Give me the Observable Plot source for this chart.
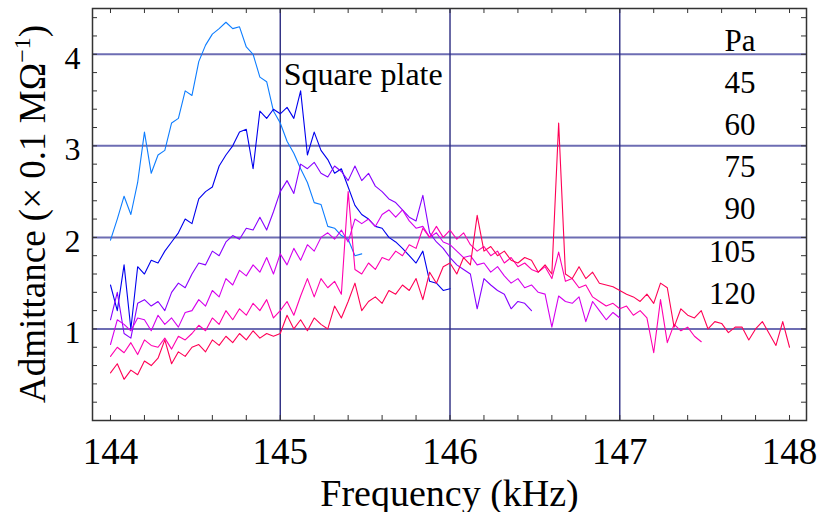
<!DOCTYPE html>
<html><head><meta charset="utf-8">
<script src="https://cdn.jsdelivr.net/npm/d3@7"></script>
<script src="https://cdn.jsdelivr.net/npm/@observablehq/plot@0.6"></script>
<style>body{margin:0;background:#fff} svg{display:block}</style>
</head><body><div id="chart"></div>
<script>
const freq = [
144.00,144.04,144.08,144.12,144.16,144.20,144.24,144.28,144.32,144.36,
144.40,144.44,144.48,144.52,144.56,144.60,144.64,144.68,144.72,144.76,
144.80,144.84,144.88,144.92,144.96,145.00,145.04,145.08,145.12,145.16,
145.20,145.24,145.28,145.32,145.36,145.40,145.44,145.48,145.52,145.56,
145.60,145.64,145.68,145.72,145.76,145.80,145.84,145.88,145.92,145.96,
146.00,146.04,146.08,146.12,146.16,146.20,146.24,146.28,146.32,146.36,
146.40,146.44,146.48,146.52,146.56,146.60,146.64,146.68,146.72,146.76,
146.80,146.84,146.88,146.92,146.96,147.00,147.04,147.08,147.12,147.16,
147.20,147.24,147.28,147.32,147.36,147.40,147.44,147.48,147.52,147.56,
147.60,147.64,147.68,147.72,147.76,147.80,147.84,147.88,147.92,147.96,
148.00];

const pressures = ["45","60","75","90","105","120"];
const colors = ["#0d7dff","#0000ee","#8800ff","#d500ee","#ff00b0","#ff0055"];

const pa45 = [1.97,2.2,2.45,2.25,2.6, 3.15,2.7,2.9,2.95,3.25, 3.3,3.6,3.55,3.92,4.1, 4.22,4.28,4.35,4.28,4.3, 4.08,4.0,3.75,3.7,3.38,
  3.25,3.05,2.92,2.75,2.6, 2.38,2.36,2.12,2.1,2.02, 1.98,1.8,1.82];
const pa60 = [1.48,1.2,1.7,1.0,1.68, 1.6,1.75,1.72,1.85,1.95, 2.05,2.2,2.15,2.42,2.5, 2.55,2.78,2.9,3.0,3.15, 3.18,2.75,3.38,3.3,3.4,
  3.35,3.42,3.3,3.6,2.9, 3.15,2.95,2.85,2.7,2.75, 2.55,2.35,2.25,2.2,2.12, 2.1,2.0,1.95,1.88,1.8, 1.72,1.85,1.52,1.5,1.42, 1.44];
const pa75 = [1.1,1.4,0.95,0.9,1.28, 1.32,1.25,1.3,1.2,1.4, 1.5,1.45,1.6,1.72,1.7, 1.85,1.8,1.95,2.02,1.98, 2.1,2.08,2.22,2.08,2.28,
  2.5,2.62,2.48,2.8,2.75, 2.82,2.7,2.66,2.78,2.72, 2.62,2.78,2.62,2.7,2.56, 2.5,2.42,2.38,2.3,2.22, 2.18,2.46,2.05,1.95,1.88,
  1.78,1.7,1.65,1.6,1.22, 1.55,1.48,1.42,1.38,1.22, 1.3,1.28,1.2];
const pa90 = [0.83,1.1,1.05,0.98,1.12, 1.1,0.98,1.15,1.05,1.12, 1.02,1.18,1.2,1.32,1.25, 1.42,1.35,1.55,1.48,1.64, 1.58,1.7,1.62,1.78,1.6,
  1.82,1.7,1.88,1.75,1.92, 1.85,2.0,2.05,1.98,2.08, 1.95,2.2,2.15,2.2,2.12, 2.25,2.3,2.22,2.3,2.18, 2.1,2.12,2.0,2.05,1.95,
  1.92,1.85,1.78,1.8,1.7, 1.72,1.62,1.68,1.58,1.5, 1.55,1.45,1.48,1.4,1.38, 1.02,1.36,1.3,1.28,1.35, 1.08,1.3,1.2,1.1,1.18, 1.12];
const pa105 = [0.7,0.8,0.74,0.85,0.72, 0.88,0.82,0.8,0.9,0.78, 0.92,0.88,0.95,1.04,0.98, 1.12,1.05,1.2,1.1,1.22, 1.15,1.28,1.2,1.32,1.12,
  1.2,1.3,1.15,1.36,1.55, 1.35,1.55,1.45,1.52,1.38, 2.5,1.65,1.6,1.72,1.65, 1.78,1.75,1.85,1.8,1.92, 1.88,2.1,2.0,2.12,2.0,
  2.08,1.98,2.05,1.92,1.85, 1.9,1.8,1.85,1.72,1.78, 1.68,1.72,1.65,1.62,1.68, 1.55,1.84,1.52,1.55,1.45, 1.48,1.35,1.3,1.25,1.28,
  1.22,1.25,1.15,1.2,1.12, 0.74,1.32,0.85,1.05,0.98, 1.02,0.92,0.86];
const pa120 = [0.52,0.62,0.45,0.55,0.5, 0.65,0.6,0.68,0.88,0.62, 0.75,0.7,0.8,0.83,0.75, 0.88,0.82,0.92,0.85,0.95, 0.88,0.98,0.9,0.95,0.92,
  0.95,1.15,1.0,1.1,0.98, 1.12,1.05,1.0,1.25,1.12, 1.3,1.5,1.2,1.3,1.35, 1.28,1.42,1.38,1.48,1.42, 1.55,1.32,1.62,1.5,1.68,
  1.72,1.6,1.78,1.7,2.24, 1.85,1.9,1.8,1.85,1.75, 1.72,1.78,1.75,1.62,1.7, 1.6,3.25,1.6,1.55,1.68, 1.55,1.62,1.5,1.48,1.46,
  1.42,1.38,1.35,1.3,1.38, 1.28,1.5,1.45,1.02,1.22, 1.15,1.12,1.2,1.0,1.08, 1.06,0.96,1.02,1.02,0.88, 1.0,1.08,0.95,0.82,1.08, 0.8];

const seriesValues = [pa45, pa60, pa75, pa90, pa105, pa120];
const xTicks = [144,145,146,147,148];
const yTicks = [1,2,3,4];
const gridX = [145,146,147];
const gridY = [1,2,3,4];
const minorX = [144,144.2,144.4,144.6,144.8,145,145.2,145.4,145.6,145.8,146,146.2,146.4,146.6,146.8,147,147.2,147.4,147.6,147.8,148];
const minorY = [0.2,0.4,0.6,0.8,1,1.2,1.4,1.6,1.8,2,2.2,2.4,2.6,2.8,3,3.2,3.4,3.6,3.8,4,4.2,4.4];
const legendTitle = "Pa";
const annotation = [{f: 145.02, v: 3.66, text: "Square plate"}];
const xLabel = "Frequency (kHz)";

const serif = "'Liberation Serif','Times New Roman',serif";
const W = 819, H = 512, mL = 92, mR = 13, mT = 8, mB = 92;
const fw = W - mL - mR, fh = H - mT - mB;

const lineMarks = seriesValues.map((vals, s) =>
  Plot.line(vals.map((v, i) => ({f: freq[i], v})), {x: "f", y: "v", stroke: colors[s], strokeWidth: 1.1})
);

const legendMarks = [legendTitle, ...pressures].map((t, i) =>
  Plot.text([t], {frameAnchor: "top-right", dx: -51, dy: 42 + i * 42.2, lineAnchor: "bottom", textAnchor: "end", fontSize: 31, fill: "black"})
);

const plot = Plot.plot({
  width: W, height: H,
  marginLeft: mL, marginRight: mR, marginTop: mT, marginBottom: mB,
  x: {domain: [143.894, 148.1]},
  y: {domain: [0, 4.5]},
  style: {fontFamily: serif, background: "white", color: "black", overflow: "visible"},
  marks: [
    Plot.ruleY(gridY, {stroke: "#3c3c99", strokeOpacity: 0.75, strokeWidth: 2}),
    Plot.ruleX(gridX, {stroke: "#2a2a80", strokeWidth: 1.4}),
    ...lineMarks,
    Plot.tickX(minorX, {x: d => d, insetTop: fh - 5, stroke: "#333"}),
    Plot.tickX(minorX, {x: d => d, insetBottom: fh - 5, stroke: "#333"}),
    Plot.tickY(minorY, {y: d => d, insetRight: fw - 5, stroke: "#333"}),
    Plot.tickY(minorY, {y: d => d, insetLeft: fw - 5, stroke: "#333"}),
    Plot.frame({stroke: "#333", strokeWidth: 1.5}),
    Plot.axisX(xTicks, {tickSize: 0, tickPadding: 17, fontSize: 37, tickFormat: d => String(d), label: null}),
    Plot.axisY(yTicks, {tickSize: 0, tickPadding: 12, fontSize: 32, dy: 4, tickFormat: d => String(d), label: null}),
    ...legendMarks,
    Plot.text(annotation, {x: "f", y: "v", text: "text", textAnchor: "start", lineAnchor: "bottom", fontSize: 32, fill: "black"}),
    Plot.text([xLabel], {frameAnchor: "bottom", dy: 85, lineAnchor: "bottom", fontSize: 38, fill: "black"})
  ]
});

const svg = d3.select(plot);
const yl = svg.append("text")
  .attr("transform", `translate(45,${mT + fh / 2}) rotate(-90)`)
  .attr("text-anchor", "middle")
  .attr("font-size", 37)
  .attr("font-family", serif)
  .attr("fill", "black");
yl.append("tspan").text("Admittance (× 0.1 MΩ");
yl.append("tspan").attr("dy", -15).attr("font-size", 24).text("−1");
yl.append("tspan").attr("dy", 15).text(")");

document.getElementById("chart").appendChild(plot);
</script></body></html>
